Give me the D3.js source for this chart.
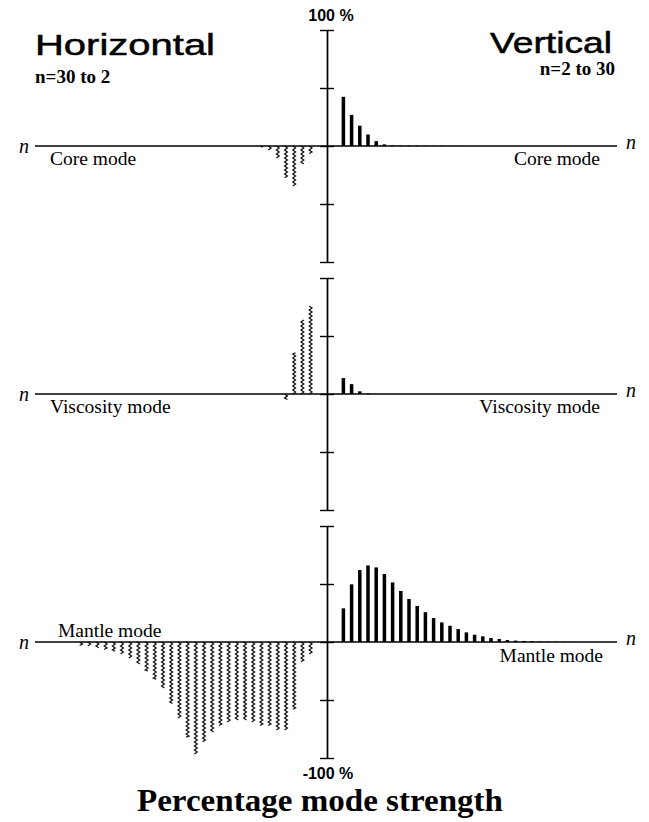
<!DOCTYPE html>
<html>
<head>
<meta charset="utf-8">
<script src="https://cdn.jsdelivr.net/npm/d3@7"></script>
<style>
  body { margin: 0; background: #fff; }
  svg { display: block; }
</style>
</head>
<body>
<svg id="chart" width="649" height="822"></svg>
<script>
// Spherical-harmonic degree n shown on each side of the central axis
const degrees = d3.range(2, 31); // n = 2 … 30

const modeNames = ["Core mode", "Viscosity mode", "Mantle mode"];

// Percentage mode strength per degree (n = 2 … 30); sign gives the side of the zero line
const coreHorizontal = [-6.5, -15.5, -34.7, -27.4, -10.5, -3.7, -1.0, 0, 0, 0, 0, 0, 0, 0, 0,
                        0, 0, 0, 0, 0, 0, 0, 0, 0, 0, 0, 0, 0, 0];
const coreVertical = [42.4, 26.8, 17.5, 9.9, 4.2, 1.4, 0.6, 0.5, 0.5, 0.4, 0.3, 0.2, 0.2, 0.1, 0.1,
                      0, 0, 0, 0, 0, 0, 0, 0, 0, 0, 0, 0, 0, 0];

const viscosityHorizontal = [76.4, 64.1, 35.6, -4.8, 0, 0, 0, 0, 0, 0, 0, 0, 0, 0, 0,
                             0, 0, 0, 0, 0, 0, 0, 0, 0, 0, 0, 0, 0, 0];
const viscosityVertical = [13.7, 8.5, 2.3, 0.5, 0, 0, 0, 0, 0, 0, 0, 0, 0, 0, 0,
                           0, 0, 0, 0, 0, 0, 0, 0, 0, 0, 0, 0, 0, 0];

const mantleHorizontal = [-11, -17, -58, -76, -76, -72, -72, -69, -68, -68, -69, -72, -78, -86, -97,
                          -82, -66, -53, -40, -32, -25, -19, -14, -11, -8, -6.5, -5, -4, -3];
const mantleVertical = [29, 49.7, 62, 66, 64.3, 58.6, 51.4, 44, 37.1, 31.1, 25.7, 20.6, 16.9, 14, 11.1,
                        8.3, 6.3, 4.9, 3.4, 2.6, 1.7, 1.2, 0.9, 0.7, 0.5, 0.4, 0.3, 0.2, 0.1];

const horizontalSeries = [coreHorizontal, viscosityHorizontal, mantleHorizontal];
const verticalSeries = [coreVertical, viscosityVertical, mantleVertical];

const axisTicks = [-100, -50, 0, 50, 100];

// ---- layout ----
const svg = d3.select("#chart");
const axisX = 327;
const baselines = [146, 394, 642];
const halfHeight = 116;            // pixels for 100 %
const lineLeft = 35, lineRight = 617;

// distance from the central axis for degree n
const nScale = d3.scaleLinear().domain([0, 30]).range([0, 246]);

// hatched bar drawn as a tight zigzag from y0 to y1
function zigzag(cx, y0, y1) {
  const dir = y1 < y0 ? -1 : 1;
  const len = Math.abs(y1 - y0);
  const step = 2.0, amp = 1.4;
  const pts = [];
  const steps = Math.max(1, Math.round(len / step));
  for (let k = 0; k <= steps; k++) {
    pts.push([cx + (k % 2 ? amp : -amp), y0 + dir * Math.min(len, k * step)]);
  }
  return d3.line()(pts);
}

const serifLabel = t => t.attr("font-family", "Liberation Serif").attr("font-size", 19.5);

baselines.forEach((b, i) => {
  const y = d3.scaleLinear().domain([-100, 100]).range([b + halfHeight, b - halfHeight]);
  const g = svg.append("g");

  // zero line
  g.append("line")
    .attr("x1", lineLeft).attr("x2", lineRight)
    .attr("y1", y(0)).attr("y2", y(0))
    .attr("stroke", "#000").attr("stroke-width", 1.5);

  // central percentage axis, ticks crossing both sides
  const axL = d3.axisLeft(y).tickValues(axisTicks).tickSizeInner(7).tickSizeOuter(0).tickFormat("");
  const axR = d3.axisRight(y).tickValues(axisTicks).tickSizeInner(7).tickSizeOuter(0).tickFormat("");
  [axL, axR].forEach(ax => {
    const a = g.append("g").attr("transform", `translate(${axisX},0)`).call(ax);
    a.selectAll("path.domain").attr("stroke", "#000").attr("stroke-width", 1.4);
    a.selectAll(".tick line").attr("stroke", "#000").attr("stroke-width", 1.4);
  });

  // horizontal component: hatched bars to the left (n runs outward)
  const hData = degrees.map((n, k) => ({ n, v: horizontalSeries[i][k] }))
    .filter(d => Math.abs(y(d.v) - y(0)) >= 1);
  g.selectAll("path.hbar").data(hData).join("path")
    .attr("class", "hbar")
    .attr("d", d => zigzag(axisX - nScale(d.n), y(0), y(d.v)))
    .attr("fill", "none").attr("stroke", "#111").attr("stroke-width", 1.25);

  // vertical component: solid bars to the right
  const vData = degrees.map((n, k) => ({ n, v: verticalSeries[i][k] }));
  const bw = 3.5;
  g.selectAll("rect.vbar").data(vData).join("rect")
    .attr("class", "vbar")
    .attr("x", d => axisX + nScale(d.n) - bw / 2)
    .attr("y", d => Math.min(y(d.v), y(0)))
    .attr("width", bw)
    .attr("height", d => Math.abs(y(d.v) - y(0)))
    .attr("fill", "#000");

  // "n" direction labels at both ends of the zero line
  g.append("text").attr("x", 19).attr("y", y(0) + 7)
    .attr("font-family", "Liberation Serif").attr("font-style", "italic")
    .attr("font-size", 20).text("n");
  g.append("text").attr("x", 626).attr("y", y(0) + 3)
    .attr("font-family", "Liberation Serif").attr("font-style", "italic")
    .attr("font-size", 20).text("n");

  // mode labels
  if (i < 2) {
    serifLabel(g.append("text").attr("x", 50).attr("y", y(0) + 19).text(modeNames[i]));
    serifLabel(g.append("text").attr("x", 600).attr("y", y(0) + 19).attr("text-anchor", "end").text(modeNames[i]));
  } else {
    serifLabel(g.append("text").attr("x", 58).attr("y", y(0) - 5).text(modeNames[i]));
    serifLabel(g.append("text").attr("x", 603).attr("y", y(0) + 20).attr("text-anchor", "end").text(modeNames[i]));
  }
});

// headings
svg.append("text").attr("x", 35).attr("y", 55)
  .attr("font-family", "Liberation Sans").attr("font-size", 30)
  .attr("stroke", "#000").attr("stroke-width", 0.5)
  .attr("textLength", 180).attr("lengthAdjust", "spacingAndGlyphs").text("Horizontal");
svg.append("text").attr("x", 612).attr("y", 53).attr("text-anchor", "end")
  .attr("font-family", "Liberation Sans").attr("font-size", 30)
  .attr("stroke", "#000").attr("stroke-width", 0.5)
  .attr("textLength", 122).attr("lengthAdjust", "spacingAndGlyphs").text("Vertical");

svg.append("text").attr("x", 35).attr("y", 83)
  .attr("font-family", "Liberation Serif").attr("font-weight", "bold").attr("font-size", 19)
  .text("n=30 to 2");
svg.append("text").attr("x", 615).attr("y", 75).attr("text-anchor", "end")
  .attr("font-family", "Liberation Serif").attr("font-weight", "bold").attr("font-size", 19)
  .text("n=2 to 30");

svg.append("text").attr("x", 331).attr("y", 21).attr("text-anchor", "middle")
  .attr("font-family", "Liberation Sans").attr("font-weight", "bold").attr("font-size", 16)
  .text("100 %");
svg.append("text").attr("x", 328).attr("y", 779).attr("text-anchor", "middle")
  .attr("font-family", "Liberation Sans").attr("font-weight", "bold").attr("font-size", 16)
  .text("-100 %");

svg.append("text").attr("x", 320).attr("y", 811).attr("text-anchor", "middle")
  .attr("font-family", "Liberation Serif").attr("font-weight", "bold").attr("font-size", 31)
  .attr("textLength", 366).attr("lengthAdjust", "spacingAndGlyphs")
  .text("Percentage mode strength");
</script>
</body>
</html>
